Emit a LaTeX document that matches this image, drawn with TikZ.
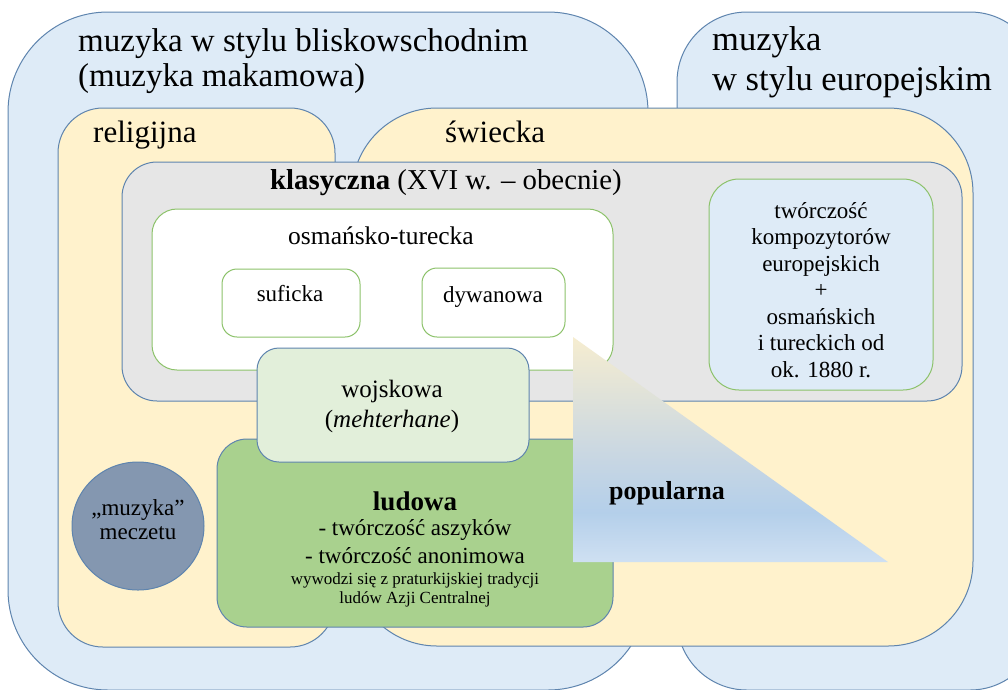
\documentclass[tikz,border=0pt]{standalone}
\usepackage{fontspec}
\setmainfont{Liberation Serif}
\definecolor{bluefill}{HTML}{DEEBF7}
\definecolor{yellowfill}{HTML}{FFF2CC}
\definecolor{grayfill}{HTML}{E6E6E6}
\definecolor{edgeblue}{HTML}{5E84AE}
\definecolor{edgegreen}{HTML}{8CC26A}
\definecolor{wojfill}{HTML}{E2EFDA}
\definecolor{ludfill}{HTML}{A9D18E}
\definecolor{circfill}{HTML}{8497B0}
\definecolor{popA}{HTML}{CFE0F2}
\definecolor{popB}{HTML}{B4CFEA}
\definecolor{popC}{HTML}{C9D7E2}
\definecolor{popD}{HTML}{F6EDD0}
\pgfdeclareverticalshading{popshade}{100bp}{color(0bp)=(popA); color(25bp)=(popA); color(36bp)=(popB); color(49bp)=(popC); color(75bp)=(popD); color(100bp)=(popD)}
\newcommand{\fsz}[1]{\fontsize{#1}{#1}\selectfont}
\tikzset{
  bbox/.style={draw=edgeblue, line width=1pt},
  gbox/.style={draw=edgegreen, line width=1pt},
  lbl/.style={inner sep=0pt, anchor=base},
  lblw/.style={inner sep=0pt, anchor=base west},
}
\begin{document}
\begin{tikzpicture}[x=1pt,y=-1pt]
\useasboundingbox (0,0) rectangle (1008,689);
\clip (0,0) rectangle (1008,689);
% outer containers
\path[bbox, fill=bluefill, rounded corners=100] (8,12) rectangle (648,690);
\path[bbox, fill=bluefill, rounded corners=70] (677,12) rectangle (1040,690);
\path[bbox, fill=yellowfill, rounded corners=45] (58,108) rectangle (335,647);
\path[bbox, fill=yellowfill, rounded corners=85] (352,108) rectangle (973,646);
\path[bbox, fill=grayfill, rounded corners=35] (122,162) rectangle (962,401);
\path[gbox, fill=white, rounded corners=25] (152,209) rectangle (613,370);
\path[gbox, fill=white, rounded corners=15] (222,269) rectangle (360,337);
\path[gbox, fill=white, rounded corners=15] (422,268) rectangle (565,337);
\path[gbox, fill=bluefill, rounded corners=30] (709,179) rectangle (933,390);
\path[bbox, fill=ludfill, rounded corners=30] (217,439) rectangle (613,627);
\path[bbox, fill=wojfill, rounded corners=22] (257,348) rectangle (529,462);
\path[bbox, fill=circfill] (138,526) ellipse [x radius=66, y radius=64];
\path[shading=popshade] (573,337) -- (573,562) -- (888,562) -- cycle;
% titles
\node[lblw] (t1) at (78,51) {\fsz{33}muzyka w stylu bliskowschodnim};
\node[lblw] (t2) at (78,86) {\fsz{33}(muzyka makamowa)};
\node[lblw] (t3) at (712,50) {\fsz{34.5}muzyka};
\node[lblw] (t4) at (712,90) {\fsz{34.5}w stylu europejskim};
\node[lblw] (rel) at (93,142) {\fsz{31}religijna};
\node[lblw] (swi) at (445,142) {\fsz{31}świecka};
\node[lbl] (kla) at (446,189) {\fsz{28.8}\textbf{klasyczna} (XVI w. – obecnie)};
\node[lbl] (osm) at (381,244) {\fsz{25.5}osmańsko-turecka};
\node[lbl] (suf) at (290,301) {\fsz{23}suficka};
\node[lbl] (dyw) at (493,302) {\fsz{23}dywanowa};
\node[lbl] (woj1) at (392,397) {\fsz{25}wojskowa};
\node[lbl] (woj2) at (392,427) {\fsz{25}(\textit{mehterhane})};
% europe box
\node[lbl] (e1) at (821,218) {\fsz{23}twórczość};
\node[lbl] (e2) at (821,244.5) {\fsz{23}kompozytorów};
\node[lbl] (e3) at (821,271) {\fsz{23}europejskich};
\node[lbl] (e4) at (821,297.5) {\fsz{23}+};
\node[lbl] (e5) at (821,324) {\fsz{23}osmańskich};
\node[lbl] (e6) at (821,350.5) {\fsz{23}i tureckich od};
\node[lbl] (e7) at (821,377) {\fsz{23}ok. 1880 r.};
% popularna
\node[lbl] (pop) at (667,499) {\fsz{26}\textbf{popularna}};
% circle
\node[lbl] (c1) at (138,515) {\fsz{23}„muzyka”};
\node[lbl] (c2) at (138,539) {\fsz{23}meczetu};
% ludowa
\node[lbl] (l1) at (415,510) {\fsz{27}\textbf{ludowa}};
\node[lbl] (l2) at (415,535) {\fsz{23}- twórczość aszyków};
\node[lbl] (l3) at (415,563) {\fsz{23}- twórczość anonimowa};
\node[lbl] (l4) at (415,584) {\fsz{17}wywodzi się z praturkijskiej tradycji};
\node[lbl] (l5) at (415,603) {\fsz{17}ludów Azji Centralnej};
\end{tikzpicture}
\end{document}
